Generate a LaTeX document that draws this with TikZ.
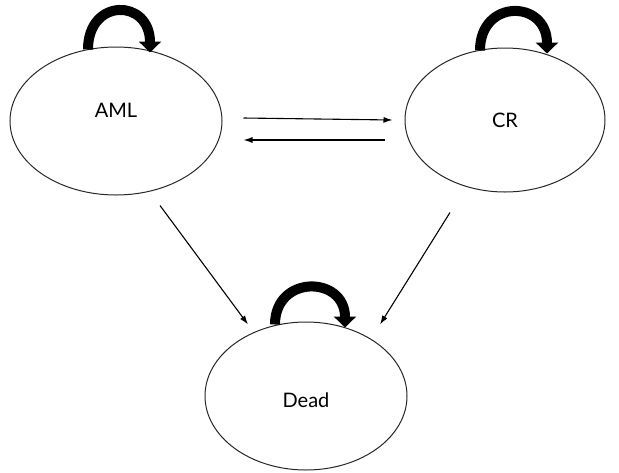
\documentclass[tikz,border=0pt]{standalone}
\usepackage{fontspec}
\setmainfont{Lato}
\usetikzlibrary{shapes.geometric,arrows.meta}
\tikzset{
    state/.style={ellipse, draw=black!85, line width=1pt, inner sep=0pt},
    move/.style={-{Latex[length=9pt,width=6pt]}, line width=1.1pt},
    stay/.style={-{Triangle[length=11pt,width=22pt]}, line width=10pt}
}
\begin{document}
\begin{tikzpicture}[x=1pt, y=-1pt, font=\fontsize{20}{24}\selectfont]
    \useasboundingbox (0,0) rectangle (619,472);
    % states
    \node[state, minimum width=212pt, minimum height=148pt,
          label={[yshift=11pt]center:AML}] (aml) at (116,121) {};
    \node[state, minimum width=200pt, minimum height=144pt,
          label={center:CR}] (cr) at (505,120) {};
    \node[state, minimum width=202pt, minimum height=148pt,
          label={[yshift=-4pt]center:Dead}] (dead) at (306,396) {};
    % self loops
    \draw[stay] ([xshift=-28pt,yshift=-3pt]aml.north) .. controls +(0,-52) and +(0,-54) .. ([xshift=34pt,yshift=-6pt]aml.north);
    \draw[stay] ([xshift=-25pt,yshift=-3pt]cr.north) .. controls +(0,-52) and +(0,-54) .. ([xshift=42pt,yshift=-6pt]cr.north);
    \draw[stay] ([xshift=-31pt,yshift=-3pt]dead.north) .. controls +(0,-50) and +(0,-52) .. ([xshift=39pt,yshift=-6pt]dead.north);
    % transitions
    \draw[move] ([xshift=21pt,yshift=3pt]aml.east) -- ([xshift=-12pt,yshift=0pt]cr.west);
    \draw[move] ([xshift=-20pt,yshift=-20pt]cr.west) -- ([xshift=21pt,yshift=-19pt]aml.east);
    \draw[move] ([xshift=44pt,yshift=-10pt]aml.south) -- ([xshift=-58pt,yshift=-3pt]dead.north);
    \draw[move] ([xshift=-55pt,yshift=-20pt]cr.south) -- ([xshift=74pt,yshift=-3pt]dead.north);
\end{tikzpicture}
\end{document}
